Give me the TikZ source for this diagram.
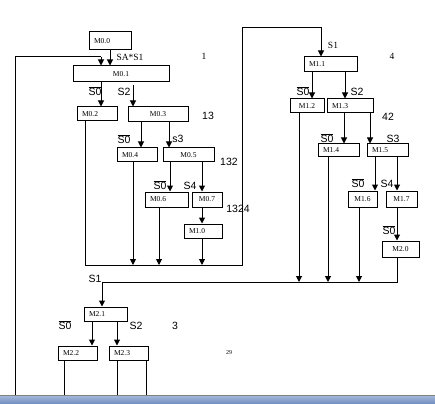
\documentclass[tikz,border=0pt]{standalone}
\usepackage{fontspec}
\setmainfont{Liberation Serif}
\setsansfont{Liberation Sans}
\usetikzlibrary{arrows.meta}
\newcommand{\nbar}[1]{$\overline{\mbox{#1}}$}
\begin{document}
\begin{tikzpicture}[x=1pt,y=-1pt]
		\tikzstyle{every node}+=[inner sep=0pt]
		\tikzstyle{mbox}=[draw=black, line width=1pt, font=\fontsize{7.5}{8}\selectfont, minimum height=14pt]
		\tikzstyle{lbox}=[mbox, inner xsep=5pt, align=left]
		\tikzstyle{wire}=[black, line width=1pt]
		\tikzstyle{arr}=[wire, -{Triangle[width=6pt,length=6pt]}]
		\tikzstyle{sig}=[font=\fontsize{10.5}{12}\sffamily]
		\tikzstyle{tag}=[font=\fontsize{9.5}{10}\selectfont]
		\useasboundingbox (0,0) rectangle (435,403);
		\fill [white] (0,0) rectangle (435,403);
		% group M0
		\node [lbox, text width=32pt, minimum height=18pt] (m00) at (110,41) {M0.0};
		\node [mbox, minimum width=96pt, minimum height=16pt] (m01) at (121,74) {M0.1};
		\node [lbox, text width=30pt] (m02) at (97,114) {M0.2};
		\node [mbox, minimum width=60pt, minimum height=15pt] (m03) at (158,114.5) {M0.3};
		\node [lbox, text width=30pt] (m04) at (137,155) {M0.4};
		\node [mbox, minimum width=51pt] (m05) at (188.5,155) {M0.5};
		\node [lbox, text width=33pt, minimum height=15pt] (m06) at (166.5,199.5) {M0.6};
		\node [mbox, minimum width=30pt, minimum height=15pt] (m07) at (207,199.5) {M0.7};
		\node [lbox, text width=28pt] (m10) at (203,231) {M1.0};
		% group M1
		\node [lbox, text width=43pt, minimum height=15pt] (m11) at (330.5,64.5) {M1.1};
		\node [mbox, minimum width=34pt] (m12) at (307,106) {M1.2};
		\node [lbox, text width=36pt] (m13) at (350,106) {M1.3};
		\node [lbox, text width=31pt, minimum height=13pt] (m14) at (338.5,150.5) {M1.4};
		\node [lbox, text width=31pt, minimum height=13pt] (m15) at (387.5,150.5) {M1.5};
		\node [mbox, minimum width=29pt, minimum height=16pt] (m16) at (362.5,199) {M1.6};
		\node [mbox, minimum width=31pt, minimum height=16pt] (m17) at (401.5,199) {M1.7};
		\node [mbox, minimum width=37pt, minimum height=16pt] (m20) at (400.5,249) {M2.0};
		% group M2
		\node [lbox, text width=33pt] (m21) at (105.5,314) {M2.1};
		\node [lbox, text width=29pt] (m22) at (77.5,353) {M2.2};
		\node [lbox, text width=29pt] (m23) at (128.5,353) {M2.3};
		% buses
		\coordinate (back) at (15,395);
		\coordinate (top0) at (101,57);
		\coordinate (busA) at (85,265);
		\coordinate (upA) at (242,28);
		\coordinate (busB) at (102,282);
		\coordinate (bar) at (0,395);
		% connectors
		\draw [wire] (back) |- (top0);
		\draw [arr] (top0) -- (top0 |- m01.north);
		\draw [arr] (m00) -- (m00 |- m01.north);
		\draw [arr] (m01.south -| 101,0) -- (m02.north -| 101,0);
		\draw [arr] (133,85) -- (m03.north -| 133,0);
		\draw [arr] (m03.south -| 141,0) -- (m04.north -| 141,0);
		\draw [arr] (m03.south -| 169,0) -- (m05.north -| 169,0);
		\draw [arr] (m05.south -| 170,0) -- (m06.north -| 170,0);
		\draw [arr] (m05.south -| 202,0) -- (m07.north -| 202,0);
		\draw [arr] (m07.south -| 202,0) -- (m10.north -| 202,0);
		\draw [arr] (m02.south -| 85,0) |- (busA -| 242,0) |- (upA -| 321,0) -- (m11.north -| 321,0);
		\draw [arr] (m04.south -| 133,0) -- (busA -| 133,0);
		\draw [arr] (m06.south -| 159,0) -- (busA -| 159,0);
		\draw [arr] (m10.south -| 202,0) -- (busA -| 202,0);
		\draw [arr] (m11.south -| 312,0) -- (m12.north -| 312,0);
		\draw [arr] (m11.south -| 345,0) -- (m13.north -| 345,0);
		\draw [arr] (m13.south -| 344,0) -- (m14.north -| 344,0);
		\draw [arr] (m13.south -| 370,0) -- (m15.north -| 370,0);
		\draw [arr] (m15.south -| 375,0) -- (m16.north -| 375,0);
		\draw [arr] (m15.south -| 397,0) -- (m17.north -| 397,0);
		\draw [arr] (m17.south -| 397,0) -- (m20.north -| 397,0);
		\draw [arr] (m12.south -| 299,0) -- (busB -| 299,0);
		\draw [arr] (m14.south -| 328,0) -- (busB -| 328,0);
		\draw [arr] (m16.south -| 359,0) -- (busB -| 359,0);
		\draw [arr] (m20.south -| 397,0) |- (busB) -- (m21.north -| 102,0);
		\draw [arr] (m21.south -| 92,0) -- (m22.north -| 92,0);
		\draw [arr] (m21.south -| 117,0) -- (m23.north -| 117,0);
		\draw [wire] (m22.south -| 64,0) -- (bar -| 64,0);
		\draw [wire] (m23.south -| 117,0) -- (bar -| 117,0);
		\draw [wire] (m23.south -| 146,0) -- (bar -| 146,0);
		% labels
		\node [tag] (lsa) at (130,57) {SA*S1};
		\node [tag] (l1) at (204,56) {1};
		\node [sig] (l0a) at (95,91) {\nbar{S0}};
		\node [sig] (l2a) at (124,92) {S2};
		\node [sig] (l13) at (208,116) {13};
		\node [sig] (l0b) at (124,139) {\nbar{S0}};
		\node [sig] (l3a) at (178,139) {s3};
		\node [sig] (l132) at (229,162) {132};
		\node [sig] (l0c) at (160,185) {\nbar{S0}};
		\node [sig] (l4a) at (190,186) {S4};
		\node [sig] (l1324) at (238,209) {1324};
		\node [tag] (l1b) at (333,45) {S1};
		\node [tag] (l4) at (392,56) {4};
		\node [sig] (l0d) at (303,91) {\nbar{S0}};
		\node [sig] (l2b) at (357,92) {S2};
		\node [sig] (l42) at (388,117) {42};
		\node [sig] (l0e) at (327,138) {\nbar{S0}};
		\node [sig] (l3b) at (393,139) {S3};
		\node [sig] (l0f) at (358,183) {\nbar{S0}};
		\node [sig] (l4b) at (387,184) {S4};
		\node [sig] (l0g) at (389,230) {\nbar{S0}};
		\node [sig] (l1c) at (95,279) {S1};
		\node [sig] (l0h) at (65,325) {\nbar{S0}};
		\node [sig] (l2c) at (136,326) {S2};
		\node [sig] (l3) at (175,326) {3};
		\node [font=\fontsize{6}{7}\selectfont] (lpg) at (229,353) {29};
		% status bar
		\shade [top color={rgb,255:red,168;green,187;blue,218}, bottom color={rgb,255:red,118;green,146;blue,196}] (bar) rectangle (435,403);
		\draw [gray, line width=0.8pt] (bar) -- (435,395);
		\end{tikzpicture}
\end{document}
